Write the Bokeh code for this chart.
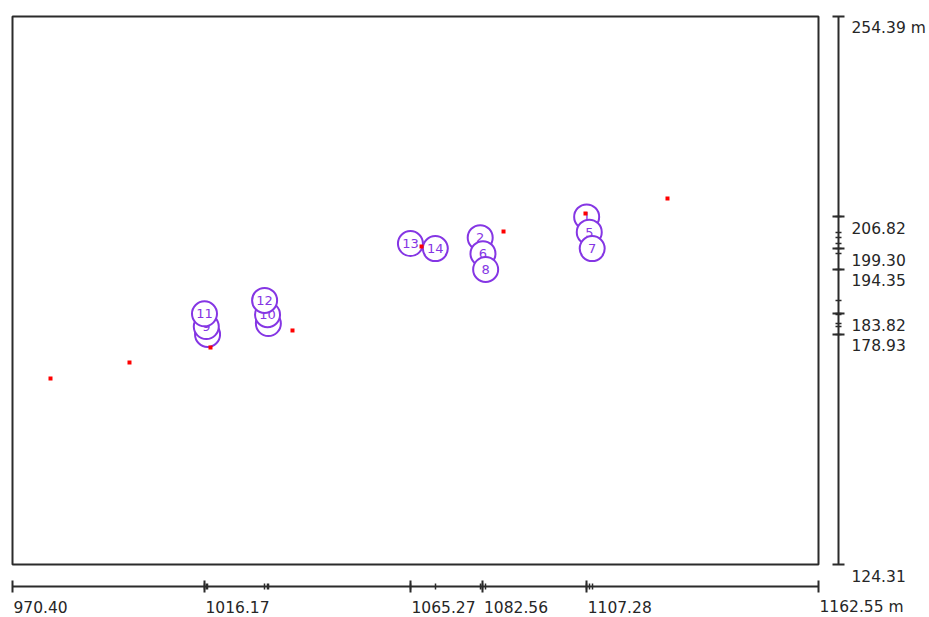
from bokeh.plotting import figure
from bokeh.models import LinearAxis, FixedTicker, Range1d
from bokeh.core.properties import value
from bokeh.embed import file_html
from bokeh.resources import INLINE

# ---- data ----
x_tick_values = [970.40, 1016.17, 1065.27, 1082.56, 1107.28, 1162.55]
x_tick_labels = ["970.40", "1016.17", "1065.27", "1082.56", "1107.28", "1162.55 m"]
y_tick_values = [124.31, 178.93, 183.82, 194.35, 199.30, 206.82, 254.39]
y_tick_labels = ["124.31", "178.93", "183.82", "194.35", "199.30", "206.82", "254.39 m"]

station_ids = [1, 2, 3, 4, 5, 6, 7, 8, 9, 10, 11, 12, 13, 14]
station_x = [1107.28, 1081.9, 1016.9, 1031.4, 1107.9, 1082.56, 1108.6, 1083.2,
             1016.6, 1031.2, 1016.17, 1030.5, 1065.27, 1071.2]
station_y = [206.82, 201.9, 178.93, 181.5, 203.2, 198.1, 199.30, 194.35,
             180.8, 183.6, 183.82, 187.0, 200.5, 199.3]

line_x = [979.46, 998.29, 1017.60, 1037.15, 1067.91, 1087.46, 1107.00, 1126.55]
line_y = [168.46, 172.26, 175.82, 179.86, 199.79, 203.36, 207.63, 211.19]

# ---- style ----
PURPLE = "#8536e4"
AXIS_COLOR = "#2b2b2b"
LABEL_COLOR = "#262626"
FONT = "DejaVu Sans"

XMIN, XMAX = x_tick_values[0], x_tick_values[-1]
YMIN, YMAX = y_tick_values[0], y_tick_values[-1]

# the plot area spans the page so that the detached axes and their labels fit in it
X_LO, X_HI = XMIN - 0.477, XMIN - 0.477 + 219.09
Y_HI = YMAX + 0.475
Y_LO = Y_HI - 143.135
X_AXIS_AT = YMIN - 5.22      # bottom axis sits a little below the box
Y_AXIS_AT = XMAX + 4.77      # right axis sits a little right of the box

p = figure(width=929, height=617, output_backend="svg", toolbar_location=None,
           x_range=Range1d(X_LO, X_HI), y_range=Range1d(Y_LO, Y_HI),
           x_axis_location=None, y_axis_location=None,
           min_border_left=10, min_border_top=14, min_border_right=0, min_border_bottom=0)
p.outline_line_color = None
p.xgrid.visible = False
p.ygrid.visible = False
p.background_fill_color = "white"
p.border_fill_color = "white"

# frame box
p.quad(left=[XMIN], right=[XMAX], bottom=[YMIN], top=[YMAX],
       fill_color=None, line_color=AXIS_COLOR, line_width=2)

# stations (circles + numbers), drawn in order so later ones cover earlier ones
for sid, sx, sy in zip(station_ids, station_x, station_y):
    p.scatter(x=[sx], y=[sy], marker="circle", size=25, fill_color="white",
              line_color=PURPLE, line_width=2)
    p.text(x=[sx], y=[sy], text=[str(sid)], text_align="center", text_baseline="middle",
           text_color=PURPLE, text_font=value(FONT), text_font_size="13px")

# profile points
p.scatter(x=line_x, y=line_y, marker="square", size=4, fill_color="red", line_color=None)

def style_axis(ax):
    ax.axis_line_color = AXIS_COLOR
    ax.axis_line_width = 2
    ax.major_tick_line_color = AXIS_COLOR
    ax.major_tick_line_width = 2
    ax.major_tick_in = 6
    ax.major_tick_out = 6
    ax.minor_tick_line_color = AXIS_COLOR
    ax.minor_tick_line_width = 1.5
    ax.minor_tick_in = 3
    ax.minor_tick_out = 3
    ax.major_label_standoff = 0
    ax.major_label_text_font_size = "1px"
    ax.major_label_text_alpha = 0

xaxis = LinearAxis(ticker=FixedTicker(ticks=x_tick_values, minor_ticks=station_x),
                   bounds=(XMIN, XMAX), fixed_location=X_AXIS_AT,
                   major_label_overrides={v: "" for v in x_tick_values})
style_axis(xaxis)
p.add_layout(xaxis, "above")

yaxis = LinearAxis(ticker=FixedTicker(ticks=y_tick_values, minor_ticks=station_y),
                   bounds=(YMIN, YMAX), fixed_location=Y_AXIS_AT,
                   major_label_overrides={v: "" for v in y_tick_values})
style_axis(yaxis)
p.add_layout(yaxis, "left")

# tick labels: placed just after/below each tick, as in the reference
p.text(x=x_tick_values, y=[X_AXIS_AT] * len(x_tick_values), text=x_tick_labels,
       x_offset=1, y_offset=21, text_align="left", text_baseline="middle",
       text_font=value(FONT), text_font_size="15.5px", text_color=LABEL_COLOR)

p.text(x=[Y_AXIS_AT] * len(y_tick_values), y=y_tick_values, text=y_tick_labels,
       x_offset=13, y_offset=11, text_align="left", text_baseline="middle",
       text_font=value(FONT), text_font_size="15.5px", text_color=LABEL_COLOR)

open("out.html", "w").write(file_html(p, INLINE))
